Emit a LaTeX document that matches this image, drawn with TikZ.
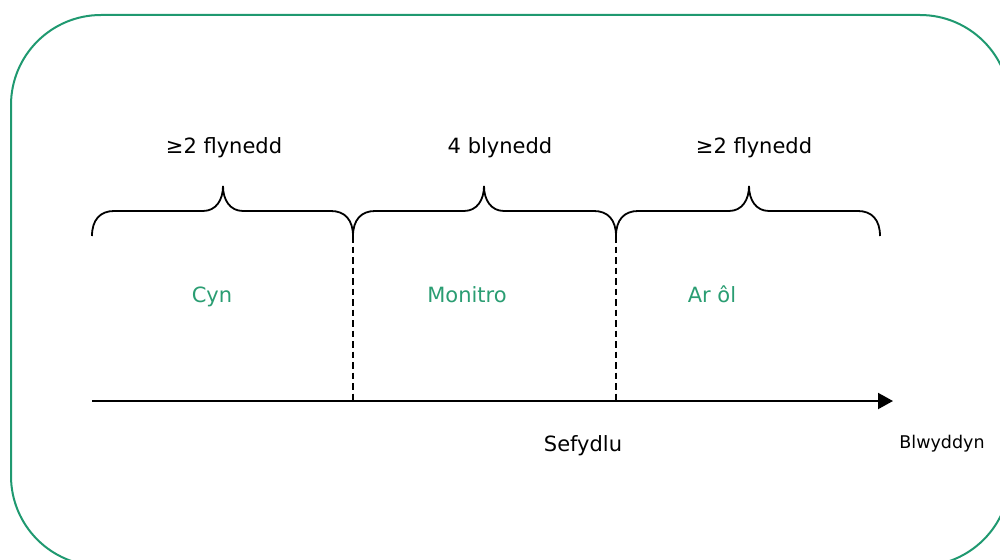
\documentclass[tikz,border=0pt]{standalone}
\usepackage{fontspec}
\setmainfont{DejaVu Sans}
\usetikzlibrary{arrows.meta}
\definecolor{frame}{HTML}{1F9970}
\definecolor{phase}{HTML}{2A9D72}
\tikzset{
  lbl/.style={anchor=base, inner sep=0pt, font=\fontsize{21}{25}\selectfont},
  phaselbl/.style={lbl, text=phase},
  smalllbl/.style={anchor=base, inner sep=0pt, font=\fontsize{17.5}{21}\selectfont},
  bracepath/.style={draw=black, line width=1.8pt},
  divider/.style={draw=black, line width=2pt, dash pattern=on 6.5pt off 4pt},
  axis/.style={draw=black, line width=2pt, -{Triangle[length=15pt,width=16pt]}},
}
\newcommand{\mybrace}[3]{%
  \draw[bracepath] (#1,236) .. controls (#1,220) and (#1+8,211) .. (#1+22,211)
    -- (#2-20,211) .. controls (#2-7,211) and (#2,200) .. (#2,186)
    .. controls (#2,200) and (#2+7,211) .. (#2+20,211)
    -- (#3-22,211) .. controls (#3-8,211) and (#3,220) .. (#3,236);}
\begin{document}
\begin{tikzpicture}[x=1pt,y=-1pt]
\useasboundingbox (0,0) rectangle (1000,559);
\clip (0,0) rectangle (1000,559);
\draw[frame, line width=2pt, rounded corners=90pt] (11,15) rectangle (1010,566);

% braces
\mybrace{92}{223}{353}
\mybrace{353}{484}{616}
\mybrace{616}{749}{880}

% coordinates
\coordinate (axisstart) at (92,401);
\coordinate (axisend) at (893,401);
\coordinate (div1top) at (353,236);
\coordinate (div1bot) at (353,401);
\coordinate (div2top) at (616,236);
\coordinate (div2bot) at (616,401);

\draw[divider] (div1top) -- (div1bot);
\draw[divider] (div2top) -- (div2bot);
\draw[axis] (axisstart) -- (axisend);

% labels
\node[lbl] (dur1) at (224,153) {≥2 flynedd};
\node[lbl] (dur2) at (500,153) {4 blynedd};
\node[lbl] (dur3) at (754,153) {≥2 flynedd};
\node[phaselbl] (cyn) at (212,302) {Cyn};
\node[phaselbl] (monitro) at (467,302) {Monitro};
\node[phaselbl] (arol) at (712,302) {Ar ôl};
\node[lbl] (sefydlu) at (583,451) {Sefydlu};
\node[smalllbl] (blwyddyn) at (942,448) {Blwyddyn};
\end{tikzpicture}
\end{document}
